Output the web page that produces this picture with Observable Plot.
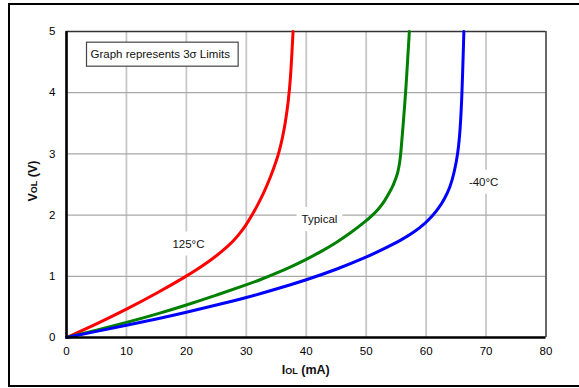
<!DOCTYPE html>
<html><head><meta charset="utf-8">
<script src="https://cdn.jsdelivr.net/npm/d3@7"></script>
<script src="https://cdn.jsdelivr.net/npm/@observablehq/plot@0.6"></script>
<style>
body{margin:0;background:#fff;}
#wrap{position:relative;width:579px;height:388px;overflow:hidden;font-family:"Liberation Sans",Arial,sans-serif;}
#frame{position:absolute;left:8px;top:3px;width:580px;height:379.5px;border:2.5px solid #000;border-right:none;}
#chart{position:absolute;left:0;top:0;}
</style></head><body>
<div id="wrap"><div id="frame"></div><div id="chart"></div></div>
<script>
// Tick values
const xTicks = [0, 10, 20, 30, 40, 50, 60, 70, 80];
const yTicks = [0, 1, 2, 3, 4, 5];

// Series: 125°C (red)
const hotI = [0, 5, 10, 15, 20, 22, 24, 25, 26, 27, 28, 29, 30, 31, 32, 33, 34, 35, 35.5, 36, 36.5, 37, 37.4, 37.8];
const hotV = [0, 0.22, 0.46, 0.72, 1.0, 1.125, 1.26, 1.334, 1.414, 1.5, 1.595, 1.71, 1.845, 2.005, 2.185, 2.385, 2.61, 2.88, 3.045, 3.245, 3.495, 3.845, 4.245, 5.0];
// Typical (green)
const typI = [0, 5, 10, 15, 20, 25, 30, 32.5, 35, 37.5, 40, 42.5, 45, 47.5, 50, 51, 52, 53, 54, 54.5, 55, 55.3, 55.6, 55.8, 56.1, 56.6, 57.2];
const typV = [0, 0.12, 0.245, 0.38, 0.53, 0.69, 0.86, 0.95, 1.05, 1.158, 1.275, 1.405, 1.55, 1.715, 1.905, 1.993, 2.093, 2.218, 2.388, 2.488, 2.608, 2.707, 2.857, 3.037, 3.4, 4.0, 5.0];
// -40°C (blue)
const coldI = [0, 5, 10, 15, 20, 25, 30, 35, 40, 45, 50, 53, 56, 58, 60, 61, 62, 63, 64, 64.7, 65.3, 65.7, 66.0, 66.3];
const coldV = [0, 0.1, 0.2, 0.3, 0.41, 0.53, 0.65, 0.79, 0.94, 1.11, 1.31, 1.45, 1.6, 1.72, 1.88, 1.98, 2.1, 2.25, 2.45, 2.7, 3.0, 3.4, 4.0, 5.0];

// Annotation labels
const annoText = ["125°C", "Typical", "-40°C"];
const annoI = [20.35, 42.2, 69.6];
const annoV = [1.53, 1.93, 2.54];
const noteText = "Graph represents 3σ Limits";

const series = [
  {name: "125°C", I: hotI, V: hotV, color: "#ff0000"},
  {name: "Typical", I: typI, V: typV, color: "#008000"},
  {name: "-40°C", I: coldI, V: coldV, color: "#0000ff"}
];
const rows = series.flatMap(s => s.I.map((v, i) => ({series: s.name, I: v, V: s.V[i]})));
const annos = annoText.map((t, i) => ({t, I: annoI[i], V: annoV[i]}));

const plot = Plot.plot({
  width: 579,
  height: 388,
  marginLeft: 66,
  marginRight: 33.5,
  marginTop: 31,
  marginBottom: 51,
  style: {fontFamily: "'Liberation Sans', Arial, sans-serif", fontSize: "11.5px", color: "#000", background: "transparent"},
  x: {domain: [0, 80], label: null},
  y: {domain: [0, 5], label: null},
  color: {domain: series.map(s => s.name), range: series.map(s => s.color)},
  marks: [
    Plot.gridX(xTicks, {stroke: "#c8c8c8", strokeOpacity: 1, strokeWidth: 1.8}),
    Plot.gridY(yTicks, {stroke: "#a8a8a8", strokeOpacity: 1, strokeWidth: 1.2}),
    Plot.ruleX([80], {stroke: "#333", strokeWidth: 1.3}),
    Plot.ruleY([5], {stroke: "#333", strokeWidth: 1.3}),
    Plot.axisX(xTicks, {tickSize: 0, tickPadding: 9, label: null, fontSize: 11.5, tickFormat: d3.format("d")}),
    Plot.axisY(yTicks, {tickSize: 0, tickPadding: 11, label: null, fontSize: 11.5, tickFormat: d3.format("d")}),
    Plot.line(rows, {x: "I", y: "V", z: "series", stroke: "series", strokeWidth: 3, curve: "basis"}),
    Plot.ruleX([0], {stroke: "#000", strokeWidth: 2.6}),
    Plot.ruleY([0], {stroke: "#000", strokeWidth: 2.6}),
    Plot.text(annos, {x: "I", y: "V", text: "t", fontSize: 11.5, fill: "#111"}),
    Plot.text([noteText], {frameAnchor: "top-left", dx: 24, dy: 23, lineAnchor: "middle", textAnchor: "start", fontSize: 11.5, fill: "#111"})
  ]
});

document.getElementById("chart").appendChild(plot);
const svg = plot.tagName.toLowerCase() === "svg" ? plot : plot.querySelector("svg");

// white backgrounds behind the annotation texts, framed box behind the note
const textGroups = Array.from(svg.querySelectorAll('g[aria-label="text"]'));
function boxes(group, padL, padR, padY, stroke) {
  if (!group) return;
  group.querySelectorAll("text").forEach(function(t) {
    const b = t.getBBox();
    const tr = t.getAttribute("transform");
    const r = document.createElementNS("http://www.w3.org/2000/svg", "rect");
    r.setAttribute("x", b.x - padL);
    r.setAttribute("y", b.y - padY);
    r.setAttribute("width", b.width + padL + padR);
    r.setAttribute("height", b.height + 2 * padY);
    r.setAttribute("fill", "#fff");
    if (tr) r.setAttribute("transform", tr);
    if (stroke) { r.setAttribute("stroke", stroke); r.setAttribute("stroke-width", 1.2); }
    t.parentNode.insertBefore(r, t);
  });
}
boxes(textGroups[textGroups.length - 2], 5, 5, 6, null);
boxes(textGroups[textGroups.length - 1], 4, 8, 6, "#444");

// Axis titles with small-cap subscripts
const xs = plot.scale("x"), ys = plot.scale("y");
const xMid = (xs.range[0] + xs.range[1]) / 2;
const yMid = (ys.range[0] + ys.range[1]) / 2;
const tg = d3.select(svg).append("g").attr("font-weight", "bold").attr("fill", "#111");
const xl = tg.append("text").attr("x", xMid).attr("y", 374).attr("text-anchor", "middle").attr("font-size", 12.5);
xl.append("tspan").text("I");
xl.append("tspan").attr("font-size", 9).text("OL");
xl.append("tspan").text(" (mA)");
const yl = tg.append("text").attr("transform", `translate(37,${yMid - 3}) rotate(-90)`).attr("text-anchor", "middle").attr("font-size", 12.5);
yl.append("tspan").text("V");
yl.append("tspan").attr("font-size", 9).text("OL");
yl.append("tspan").text(" (V)");
</script>
</body></html>
